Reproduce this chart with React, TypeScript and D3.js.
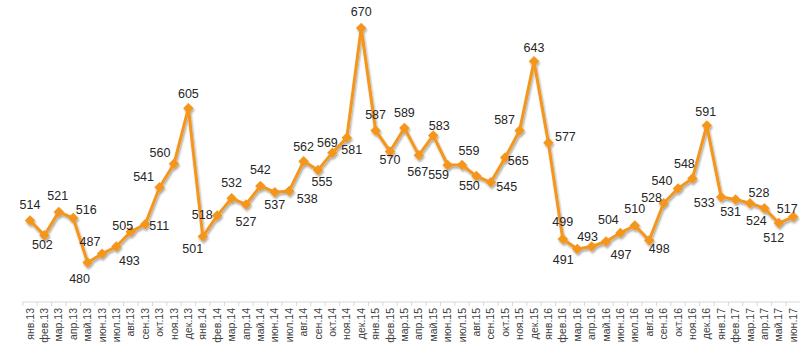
import React from "react";
import * as d3 from "d3";

const monthNames = ["янв", "фев", "мар", "апр", "май", "июн", "июл", "авг", "сен", "окт", "ноя", "дек"];
const years = ["13", "14", "15", "16", "17"];
const categories: string[] = years
  .flatMap((y) => monthNames.map((m) => `${m}.${y}`))
  .slice(0, 54);

const values = [
  514, 502, 521, 516, 480, 487, 493, 505, 511, 541, 560, 605,
  501, 518, 532, 527, 542, 537, 538, 562, 555, 569, 581, 670,
  587, 570, 589, 567, 583, 559, 559, 550, 545, 565, 587, 643,
  577, 499, 491, 493, 497, 504, 510, 498, 528, 540, 548, 591,
  533, 531, 528, 524, 512, 517,
];

// label nudges relative to each point (layout only)
const labelOffsets: [number, number][] = [
  [0, -16], [-2, 9], [-1, -16], [13, -8], [-8, 16], [-12, -12], [13, 14], [-8, -6], [14, 1], [-16, -11], [-14, -11], [0, -15],
  [-10, 12], [-15, -1], [0, -16], [0, 17], [0, -16], [0, 12], [18, 8], [0, -15], [4, 12], [-5, -10], [5, 12], [0, -16],
  [0, -16], [0, 8], [0, -15], [-1, 16], [6, -10], [-9, 10], [7, -14], [-7, 10], [16, 4], [13, 3], [-15, -11], [0, -14],
  [17, -6], [0, -17], [-14, 11], [-4, -10], [15, 13], [-12, -13], [0, -17], [10, 8], [-12, -6], [-16, -8], [-8, -15], [-1, -14],
  [-17, 6], [-5, 12], [9, -11], [-8, 12], [-5, 15], [-6, -8],
];

const W = 800;
const H = 361;
const ORANGE = "#F4961E";

export default function App() {
  const x = d3.scaleBand<string>().domain(categories).range([22.8, 800.4]).padding(0);
  const y = d3.scaleLinear().domain([448, 670]).range([302, 28]);
  const cx = (c: string) => (x(c) ?? 0) + x.bandwidth() / 2;

  const line = d3
    .line<number>()
    .x((_, i) => cx(categories[i]))
    .y((d) => y(d));

  const boundaries = categories.map((c) => x(c) ?? 0);

  const diamond = d3.symbol().type(d3.symbolDiamond2).size(70)() || "";

  return (
    <svg
      width={W}
      height={H}
      style={{ position: "absolute", left: 0, top: 0, background: "#fff" }}
      fontFamily="'Liberation Sans', Arial, sans-serif"
    >
      <defs>
        <filter id="sh" x="-50%" y="-50%" width="200%" height="200%">
          <feGaussianBlur in="SourceAlpha" stdDeviation="1.2" />
          <feOffset dx="1" dy="1.5" result="b" />
          <feComponentTransfer>
            <feFuncA type="linear" slope="0.35" />
          </feComponentTransfer>
          <feMerge>
            <feMergeNode />
            <feMergeNode in="SourceGraphic" />
          </feMerge>
        </filter>
      </defs>

      {/* axis */}
      <line x1={22.8} x2={800} y1={302} y2={302} stroke="#d9d9d9" strokeWidth={1} />
      {boundaries.map((b, i) => (
        <line key={i} x1={b} x2={b} y1={302} y2={306} stroke="#d9d9d9" strokeWidth={1} />
      ))}
      {categories.map((c) => (
        <text
          key={c}
          transform={`translate(${cx(c) + 3.5},308) rotate(-90)`}
          textAnchor="end"
          fontSize={10.5}
          fill="#404040"
        >
          {c}
        </text>
      ))}

      {/* line */}
      <g filter="url(#sh)">
        <path d={line(values) || ""} fill="none" stroke={ORANGE} strokeWidth={3} strokeLinejoin="round" />
        {values.map((v, i) => (
          <path key={i} d={diamond} transform={`translate(${cx(categories[i])},${y(v)})`} fill={ORANGE} />
        ))}
      </g>

      {/* labels */}
      {values.map((v, i) => (
        <text
          key={i}
          x={cx(categories[i]) + labelOffsets[i][0]}
          y={y(v) + labelOffsets[i][1]}
          dy="0.35em"
          textAnchor="middle"
          fontSize={12.5}
          fill="#262626"
        >
          {v}
        </text>
      ))}
    </svg>
  );
}
